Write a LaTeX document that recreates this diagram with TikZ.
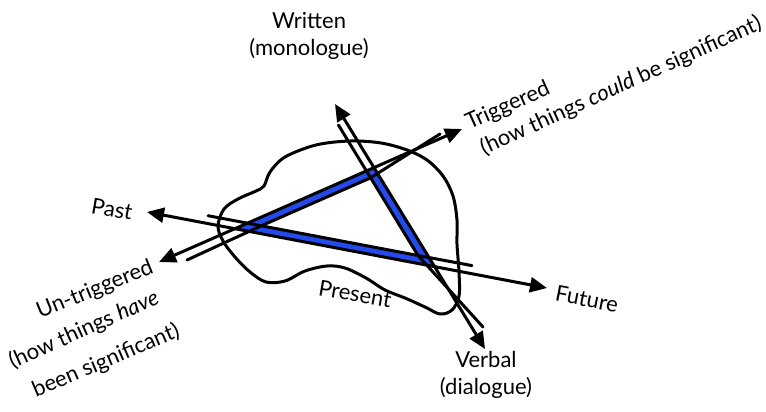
\documentclass[tikz,border=0pt]{standalone}
\usepackage{fontspec}
\setmainfont{Lato}
\usetikzlibrary{arrows.meta}
\definecolor{bandblue}{RGB}{35,75,235}
\begin{document}
\begin{tikzpicture}[x=1pt,y=-1pt,
  axisline/.style={line width=3pt, {Triangle[length=17pt,width=15pt]}-{Triangle[length=17pt,width=15pt]}},
  partner/.style={line width=3pt, line cap=round, line join=round},
  cloudline/.style={line width=3pt, line join=round},
  lbl/.style={font=\fontsize{22}{27}\selectfont, inner sep=0pt},
]
\useasboundingbox (0,0) rectangle (766,412);
% axis tips
\coordinate (pastTip) at (147,212);
\coordinate (futTip) at (547,288);
\coordinate (untrigTip) at (159,262);
\coordinate (trigTip) at (462,129);
\coordinate (writTip) at (335,104);
\coordinate (verbTip) at (485,349);
% triangle outer vertices
\coordinate (L) at (intersection of pastTip--futTip and untrigTip--trigTip);
\coordinate (T) at (intersection of untrigTip--trigTip and writTip--verbTip);
\coordinate (R) at (intersection of pastTip--futTip and writTip--verbTip);
% inner vertices
\coordinate (Li) at (261.3,225.8);
\coordinate (Ti) at (370.6,177.8);
\coordinate (Ri) at (418.0,255.5);
% partner ends
\coordinate (pbS) at (208,215.7);
\coordinate (pbE) at (472,265.6);
\coordinate (tbS) at (187,260);
\coordinate (tbE) at (440,134);
\coordinate (wbS) at (338.4,125);
\coordinate (wbE) at (483,327);

% cloud
\draw[cloudline] plot[smooth cycle, tension=0.55] coordinates {
 (218,226) (224,209) (238,199) (256,191) (264,186) (270,172) (285,157)
 (316,145) (350,141) (381,143) (407,150) (427,160) (443,176) (453,196)
 (457,220) (457,244) (459,272) (459,296) (452,310) (440,314) (425,307)
 (405,298) (385,290) (366,278) (345,268) (327,266) (305,271) (285,281)
 (266,282) (250,272) (235,257) (223,241)};

% blue band
\fill[bandblue, even odd rule] (L) -- (T) -- (R) -- cycle (Li) -- (Ti) -- (Ri) -- cycle;

% axes
\draw[axisline] (pastTip) -- (futTip);
\draw[axisline] (untrigTip) -- (trigTip);
\draw[axisline] (writTip) -- (verbTip);
% partner lines
\draw[partner] (pbS) -- (Li) -- (Ri) -- (pbE);
\draw[partner] (tbS) -- (Li) -- (Ti) -- (tbE);
\draw[partner] (wbS) -- (Ti) -- (Ri) -- (wbE);

% labels
\node[lbl, rotate=-10] (past) at (112,209) {Past};
\node[lbl, rotate=-11] (future) at (587,299) {Future};
\node[lbl, rotate=-10] (present) at (355,294) {Present};
\node[lbl, align=center] (written) at (309,36) {Written\\(monologue)};
\node[lbl, align=center] (verbal) at (486,375) {Verbal\\(dialogue)};
\node[lbl, rotate=24] (trig1) at (508,106) {Triggered};
\node[lbl, rotate=24.5] (trig2) at (621,86) {(how things \textit{could} be significant)};
\node[lbl, rotate=22] (un1) at (95,290) {Un-triggered};
\node[lbl, rotate=24] (un2) at (84,330) {(how things \textit{have}};
\node[lbl, rotate=23] (un3) at (106,361) {been significant)};
\end{tikzpicture}
\end{document}
